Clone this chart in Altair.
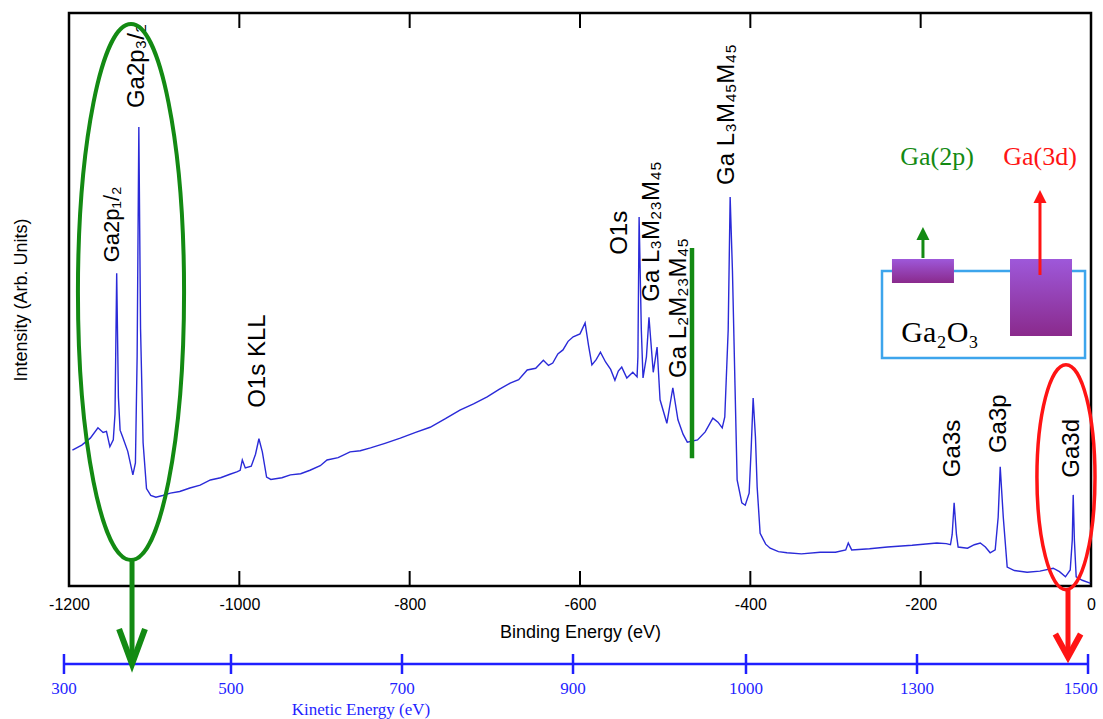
import altair as alt
import pandas as pd

# ---------------- data (binding energy in eV, intensity in arbitrary units 0-100) ----------------
be = [-1196, -1185, -1175, -1166, -1160, -1156, -1152, -1148, -1146, -1144, -1142, -1140, -1137,
      -1131, -1125, -1122, -1120, -1118, -1116, -1113, -1109, -1104, -1098, -1090, -1081, -1070,
      -1058, -1046, -1034, -1022, -1011, -1003, -999, -996.5, -993, -986, -981, -977, -973, -968,
      -963, -950, -940, -928, -917, -905, -897, -884, -870, -858, -846, -829, -811, -793, -776,
      -758, -741, -725, -709, -695, -682, -672, -662, -652, -643, -637, -632, -626, -620, -614,
      -608, -600, -594, -590, -586, -581, -576, -570, -564, -559, -555, -551, -545, -538, -533,
      -532, -530.6, -528, -526, -522, -519, -514, -509.5, -506, -498, -491, -485, -479, -474,
      -462, -453, -444, -438, -433, -430, -426, -423.7, -421, -418, -415.5, -410, -406, -401.4,
      -399, -396.7, -394, -392, -388.5, -382, -376.7, -367, -357, -340, -318, -300, -288, -285,
      -281, -260, -239, -210, -181, -170, -165, -163, -160.7, -158, -156, -145, -137, -130, -124,
      -118.4, -112.5, -109, -106.6, -103, -98.4, -90, -75, -60, -44.4, -37, -30, -24.4, -22,
      -20.9, -19.5, -17.4, -10.3, -1]
intensity = [23.7, 24.6, 25.8, 27.6, 26.8, 27.0, 24.3, 25.5, 30.0, 54.6, 33.0, 27.2, 26.0,
             23.5, 19.4, 21.5, 40.0, 80.1, 45.0, 25.0, 17.0, 15.8, 15.5, 15.8, 16.2, 16.5,
             17.1, 17.6, 18.5, 18.9, 19.5, 19.9, 20.2, 22.0, 20.6, 20.9, 23.0, 25.7, 23.4, 19.0,
             18.6, 18.9, 19.4, 19.6, 20.2, 21.0, 22.0, 22.4, 23.4, 23.6, 24.1, 24.9, 25.8, 26.8, 27.7,
             29.2, 30.7, 31.8, 33.0, 34.3, 35.4, 36.0, 37.7, 38.0, 39.4, 38.5, 38.9, 40.5, 41.2, 42.7,
             43.5, 44.0, 45.9, 42.0, 38.6, 39.5, 40.8, 39.1, 37.8, 35.9, 37.5, 38.2, 36.3, 37.3, 36.5,
             40.0, 64.4, 44.7, 36.3, 40.0, 46.9, 37.3, 41.7, 32.5, 28.4, 34.6, 29.0, 26.5, 25.1,
             25.5, 26.9, 29.3, 28.6, 27.6, 29.5, 44.7, 67.9, 55.0, 35.0, 18.5, 14.5, 14.1, 16.2,
             24.0, 32.8, 26.0, 17.3, 9.2, 7.3, 6.6, 6.0, 5.8, 5.6, 5.9, 5.9, 6.3, 7.5,
             6.3, 6.5, 6.8, 7.1, 7.5, 7.4, 7.2, 9.0, 14.5, 9.0, 6.8, 6.6, 7.2, 7.5, 6.8,
             5.8, 6.3, 12.0, 20.8, 12.0, 3.3, 2.7, 2.4, 2.6, 3.1, 2.5, 1.6, 2.8, 8.0,
             15.9, 8.0, 1.6, 1.0, 0.5]

peak_labels = ["Ga2p₁/₂", "Ga2p₃/₂", "O1s KLL", "O1s", "Ga L₃M₂₃M₄₅", "Ga L₂M₂₃M₄₅",
               "Ga L₃M₄₅M₄₅", "Ga3s", "Ga3p", "Ga3d"]
peak_label_be = [-1149.5, -1120.2, -978.1, -553.0, -515.5, -483.8, -427.4, -162.0, -108.0, -22.3]
peak_label_int = [56.5, 83.4, 31.1, 57.8, 49.6, 36.3, 70.0, 19.0, 23.2, 18.9]
peak_label_size = [22, 24, 24, 24, 24, 24, 24, 24, 24, 24]

x_tick_values = [-1200, -1000, -800, -600, -400, -200, 0]
inner_ticks = [-1000, -800, -600, -400, -200]

ke_labels = ["300", "500", "700", "900", "1000", "1300", "1500"]
ke_pos = [-1205.9, -1009.8, -809.0, -608.2, -405.1, -204.3, -3.5]
ke_label_pos = [-1205.9, -1009.8, -809.0, -608.2, -405.1, -204.3, -12.0]

# decorations (data coordinates)
green_bar = {"x": -468.5, "y": 59.0, "y2": 22.3}
green_ellipse = {"x": -1127.2, "y": 51.3}
red_ellipse = {"x": -29.4, "y": 19.0}

GREEN = "#138a13"
RED = "#ff1414"
BLUE_LINE = "#2a2ad8"
KE_BLUE = "#1f1fff"
SANS = "Liberation Sans"
SERIF = "Liberation Serif"

xs = alt.Scale(domain=[-1200, 0], nice=False, zero=False)
ys = alt.Scale(domain=[0, 100], nice=False, zero=False)
xaxis = alt.Axis(title="Binding Energy (eV)", values=x_tick_values, labelExpr="'' + datum.value",
                 grid=False, ticks=False, tickSize=0, domain=False, labelFont=SANS, labelFontSize=16,
                 labelColor="black", labelPadding=10, labelFlush=False, titleFont=SANS,
                 titleFontSize=18, titleFontWeight="normal", titleColor="black", titlePadding=11)
yaxis = alt.Axis(title="Intensity (Arb. Units)", labels=False, ticks=False, tickSize=0, domain=False,
                 grid=False, titleFont=SANS, titleFontSize=18, titleFontWeight="normal",
                 titleColor="black", titlePadding=39)


def X(f="x"):
    return alt.X(f, type="quantitative", scale=xs, axis=xaxis)


def Y(f="y"):
    return alt.Y(f, type="quantitative", scale=ys, axis=yaxis)


layers = []

# spectrum
spec_df = pd.DataFrame({"x": be, "y": intensity})
layers.append(alt.Chart(spec_df).mark_line(color=BLUE_LINE, strokeWidth=1.4).encode(x=X(), y=Y()))

# inner ticks top & bottom
tick_df = pd.DataFrame({"x": inner_ticks * 2, "y": [0] * 5 + [100] * 5, "y2": [2.62] * 5 + [97.38] * 5})
layers.append(alt.Chart(tick_df).mark_rule(color="black", strokeWidth=2).encode(
    x=X(), y=Y(), y2="y2"))

# peak labels
lab_df = pd.DataFrame({"t": peak_labels, "x": peak_label_be, "y": peak_label_int, "s": peak_label_size})
layers.append(alt.Chart(lab_df).mark_text(angle=270, align="left", baseline="middle", font=SANS,
                                           color="black").encode(
    x=X(), y=Y(), text="t:N", size=alt.Size("s:Q", scale=None, legend=None)))

# green vertical bar
layers.append(alt.Chart(pd.DataFrame([green_bar])).mark_rule(color=GREEN, strokeWidth=4.5).encode(
    x=X(), y=Y(), y2="y2"))

# ellipses
layers.append(alt.Chart(pd.DataFrame([green_ellipse])).mark_point(
    shape="M -0.198 0 A 0.198 1 0 1 0 0.198 0 A 0.198 1 0 1 0 -0.198 0 Z",
    size=287296, filled=False, color=GREEN, strokeWidth=4, opacity=1).encode(x=X(), y=Y()))
layers.append(alt.Chart(pd.DataFrame([red_ellipse])).mark_point(
    shape="M -0.258 0 A 0.258 1 0 1 0 0.258 0 A 0.258 1 0 1 0 -0.258 0 Z",
    size=50625, filled=False, color=RED, strokeWidth=3.5, opacity=1).encode(x=X(), y=Y()))

# kinetic energy axis
layers.append(alt.Chart(pd.DataFrame({"x": [ke_pos[0]], "x2": [ke_pos[-1]], "y": [-13.61]})).mark_rule(
    color=KE_BLUE, strokeWidth=2.5).encode(x=X(), x2="x2", y=Y()))
layers.append(alt.Chart(pd.DataFrame({"x": ke_pos, "y": [-11.87] * 7, "y2": [-15.36] * 7})).mark_rule(
    color=KE_BLUE, strokeWidth=2.5).encode(x=X(), y=Y(), y2="y2"))
layers.append(alt.Chart(pd.DataFrame({"x": ke_label_pos, "y": [-17.9] * 7, "t": ke_labels})).mark_text(
    font=SERIF, fontSize=17, color=KE_BLUE, baseline="middle").encode(x=X(), y=Y(), text="t:N"))
layers.append(alt.Chart(pd.DataFrame({"x": [-857.1], "y": [-21.7], "t": ["Kinetic  Energy  (eV)"]})).mark_text(
    font=SERIF, fontSize=17, color=KE_BLUE, baseline="middle").encode(x=X(), y=Y(), text="t:N"))

# down arrows
layers.append(alt.Chart(pd.DataFrame({"x": [-1126.0], "y": [4.54], "y2": [-13.0]})).mark_rule(
    color=GREEN, strokeWidth=5).encode(x=X(), y=Y(), y2="y2"))
layers.append(alt.Chart(pd.DataFrame({"x": [-1126.0], "y": [-13.61]})).mark_point(
    shape="M -0.37 -1 L 0 0 L 0.37 -1", size=4900, filled=False, color=GREEN, strokeWidth=6,
    opacity=1, strokeJoin="miter").encode(x=X(), y=Y()))
layers.append(alt.Chart(pd.DataFrame({"x": [-27.0], "y": [-0.7], "y2": [-11.9]})).mark_rule(
    color=RED, strokeWidth=5).encode(x=X(), y=Y(), y2="y2"))
layers.append(alt.Chart(pd.DataFrame({"x": [-27.0], "y": [-12.39]})).mark_point(
    shape="M -0.55 -1 L 0 0 L 0.55 -1", size=2116, filled=False, color=RED, strokeWidth=6,
    opacity=1, strokeJoin="miter").encode(x=X(), y=Y()))

# inset diagram
purple = alt.Gradient(gradient="linear", x1=0, x2=0, y1=0, y2=1,
                      stops=[alt.GradientStop(color="#9e58da", offset=0),
                             alt.GradientStop(color="#8a2a8c", offset=1)])
layers.append(alt.Chart(pd.DataFrame({"x": [-245.4], "x2": [-7.0], "y": [54.97], "y2": [39.79]})).mark_rect(
    fillOpacity=0, stroke="#3da5ec", strokeWidth=2.5).encode(x=X(), x2="x2", y=Y(), y2="y2"))
layers.append(alt.Chart(pd.DataFrame({"x": [-233.7, -95.1], "x2": [-160.9, -22.3],
                                      "y": [57.07, 57.07], "y2": [52.88, 43.63]})).mark_rect(
    fill=purple).encode(x=X(), x2="x2", y=Y(), y2="y2"))
layers.append(alt.Chart(pd.DataFrame({"x": [-197.3], "y": [57.24], "y2": [60.73]})).mark_rule(
    color=GREEN, strokeWidth=3).encode(x=X(), y=Y(), y2="y2"))
layers.append(alt.Chart(pd.DataFrame({"x": [-197.3], "y": [62.65]})).mark_point(
    shape="M 0 0 L 0.5 1 L -0.5 1 Z", size=676, filled=True, color=GREEN, opacity=1).encode(x=X(), y=Y()))
layers.append(alt.Chart(pd.DataFrame({"x": [-59.9], "y": [54.28], "y2": [67.36]})).mark_rule(
    color=RED, strokeWidth=3).encode(x=X(), y=Y(), y2="y2"))
layers.append(alt.Chart(pd.DataFrame({"x": [-59.9], "y": [69.11]})).mark_point(
    shape="M 0 0 L 0.5 1 L -0.5 1 Z", size=676, filled=True, color=RED, opacity=1).encode(x=X(), y=Y()))
layers.append(alt.Chart(pd.DataFrame({"x": [-180.8, -59.9], "y": [74.87, 74.87], "t": ["Ga(2p)", "Ga(3d)"],
                                      "c": [GREEN, RED]})).mark_text(
    font=SERIF, fontSize=26, baseline="middle").encode(
    x=X(), y=Y(), text="t:N", color=alt.Color("c:N", scale=None, legend=None)))
layers.append(alt.Chart(pd.DataFrame({"x": [-177.3], "y": [44.15], "t": ["Ga₂O₃"]})).mark_text(
    font=SERIF, fontSize=30, baseline="middle", color="black").encode(x=X(), y=Y(), text="t:N"))

chart = alt.layer(*layers).properties(
    width=1022, height=573,
    autosize=alt.AutoSizeParams(type="none"),
    padding={"left": 69, "top": 13, "right": 12, "bottom": 133},
    background="white",
).configure_view(stroke="black", strokeWidth=2.5)

chart.save("out.html", embed_options={"renderer": "svg", "actions": False})
